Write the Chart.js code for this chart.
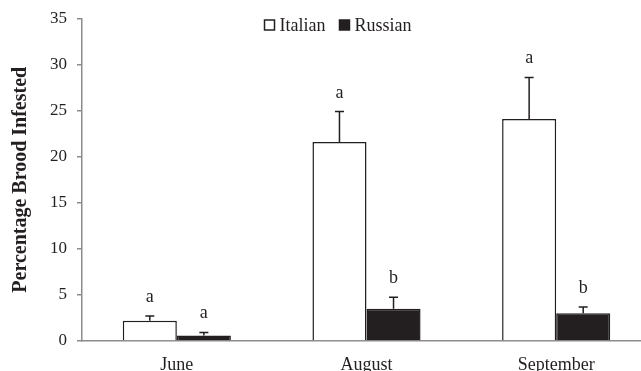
<!DOCTYPE html>
<html>
<head>
<meta charset="utf-8">
<script src="https://cdn.jsdelivr.net/npm/chart.js@4/dist/chart.umd.min.js"></script>
<style>
  html, body { margin: 0; padding: 0; background: #fff; overflow: hidden; }
  #wrap { width: 652px; height: 371px; position: relative; }
</style>
</head>
<body>
<div id="wrap"><canvas id="chart"></canvas></div>
<script>
// Data
const months = ["June", "August", "September"];
const italian = [2.2, 21.6, 24.1];
const russian = [0.6, 3.5, 3.0];
const italianSE = [0.5, 3.3, 4.5];
const russianSE = [0.33, 1.25, 0.7];
const italianLetters = ["a", "a", "a"];
const russianLetters = ["a", "b", "b"];
const yTicks = [0, 5, 10, 15, 20, 25, 30, 35];

const ink = "#231f20";
const axisGrey = "#8c8c8c";
const serif = "'Liberation Serif', 'Times New Roman', serif";

// error bars + significance letters, drawn on top of the bars
const errorBars = {
    id: "errorBars",
    afterDatasetsDraw(chart) {
        const ctx = chart.ctx;
        const yScale = chart.scales.y;
        const errs = [italianSE, russianSE];
        const letters = [italianLetters, russianLetters];
        ctx.save();
        ctx.strokeStyle = ink;
        ctx.lineWidth = 1.5;
        ctx.fillStyle = ink;
        ctx.font = "18px " + serif;
        ctx.textAlign = "center";
        ctx.textBaseline = "alphabetic";
        chart.data.datasets.forEach((ds, i) => {
            const meta = chart.getDatasetMeta(i);
            meta.data.forEach((bar, j) => {
                const top = yScale.getPixelForValue(ds.data[j] + errs[i][j]);
                ctx.beginPath();
                ctx.moveTo(bar.x, bar.y);
                ctx.lineTo(bar.x, top);
                ctx.moveTo(bar.x - 4.5, top);
                ctx.lineTo(bar.x + 4.5, top);
                ctx.stroke();
                ctx.fillText(letters[i][j], bar.x, top - 14);
            });
        });
        ctx.restore();
    }
};

// legend at top centre: open box for Italian, filled box for Russian
const topLegend = {
    id: "topLegend",
    afterDraw(chart) {
        const ctx = chart.ctx;
        ctx.save();
        ctx.font = "18px " + serif;
        ctx.textBaseline = "middle";
        ctx.fillStyle = ink;
        const items = chart.data.datasets;
        const box = 10, gap = 5, spacing = 14;
        const widths = items.map(d => box + gap + ctx.measureText(d.label).width);
        const total = widths.reduce((a, b) => a + b, 0) + spacing * (items.length - 1);
        let x = 338 - total / 2;
        const y = 25;
        items.forEach((d, i) => {
            ctx.fillStyle = d.backgroundColor;
            ctx.fillRect(x, y - box / 2, box, box);
            ctx.strokeStyle = ink;
            ctx.lineWidth = 1.5;
            ctx.strokeRect(x, y - box / 2, box, box);
            ctx.fillStyle = ink;
            ctx.textAlign = "left";
            ctx.fillText(d.label, x + box + gap, y + 1);
            x += widths[i] + spacing;
        });
        ctx.restore();
    }
};

new Chart(document.getElementById("chart"), {
    type: "bar",
    data: {
        labels: months,
        datasets: [
            {
                label: "Italian",
                data: italian,
                backgroundColor: "#ffffff",
                borderColor: ink,
                borderWidth: 1.5
            },
            {
                label: "Russian",
                data: russian,
                backgroundColor: ink,
                borderColor: ink,
                borderWidth: 1.5
            }
        ]
    },
    options: {
        responsive: true,
        maintainAspectRatio: false,
        animation: false,
        categoryPercentage: 0.57,
        barPercentage: 1.0,
        layout: { padding: { top: 17.5, right: 1, left: 0, bottom: 0 } },
        plugins: {
            legend: { display: false },
            tooltip: { enabled: false }
        },
        scales: {
            x: {
                grid: { display: false },
                border: { display: true, color: axisGrey, width: 1.5 },
                ticks: { color: ink, font: { family: serif, size: 18 }, padding: 5 },
                afterFit(scale) { scale.height = 30; }
            },
            y: {
                min: 0,
                max: 35,
                afterBuildTicks(scale) { scale.ticks = yTicks.map(v => ({ value: v })); },
                grid: { drawOnChartArea: false, drawTicks: true, tickLength: 5, color: axisGrey, lineWidth: 1.5 },
                border: { display: true, color: axisGrey, width: 1.5 },
                ticks: { color: ink, font: { family: serif, size: 17, lineHeight: 1 }, padding: 10 },
                title: {
                    display: true,
                    text: "Percentage Brood Infested",
                    color: ink,
                    font: { family: serif, size: 20, weight: "bold" },
                    padding: { top: 9, bottom: 0 }
                },
                afterFit(scale) { scale.width = 82; }
            }
        }
    },
    plugins: [errorBars, topLegend]
});
</script>
</body>
</html>
